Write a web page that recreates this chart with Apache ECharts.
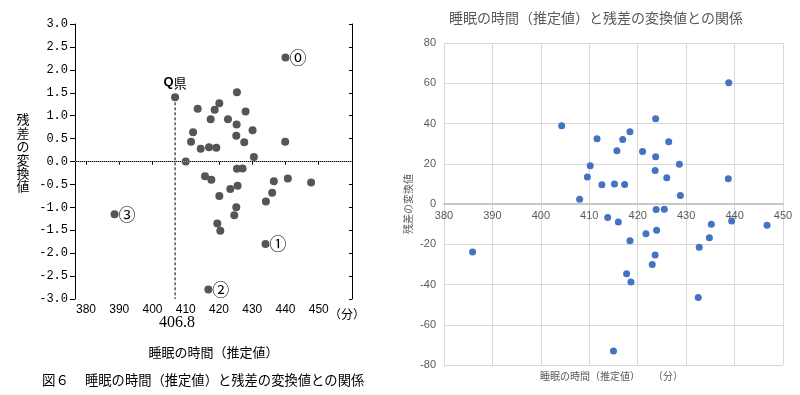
<!DOCTYPE html>
<html><head><meta charset="utf-8">
<script src="https://cdn.jsdelivr.net/npm/echarts@6/dist/echarts.min.js"></script>
<style>html,body{margin:0;padding:0;background:#fff}#c{width:800px;height:395px}</style>
</head><body><div id="c"></div>
<script>
// ---- Left chart (図6) ----
const leftSleep = [440.0,434.0,416.8,388.6,406.8, 425.4,413.6,418.7,420.1,428.0,417.5,422.7,425.3,412.2,430.1,425.2,411.6,427.6,439.9,414.5,417.0,419.2,410.0,430.5,415.8,417.7,425.4,427.1,436.5,440.7,447.7,420.1,423.4,425.6,436.0,434.1,425.2,424.6,419.5,420.4];
const leftResid = [2.27,-1.80,-2.79,-1.15,1.40, 1.51,1.15,1.13,1.27,1.09,0.92,0.92,0.81,0.64,0.68,0.56,0.43,0.42,0.43,0.28,0.31,0.30,0.00,0.10,-0.32,-0.40,-0.16,-0.15,-0.43,-0.37,-0.46,-0.75,-0.60,-0.53,-0.68,-0.87,-1.00,-1.17,-1.35,-1.51];
const leftTags = ['⓪','①','②','③','Q県'];
const qSleep = 406.8;
const qResid = 1.40;
const leftXLabels = [380,390,400,410,420,430,440,450];
// ---- Right chart ----
const rightSleep = [438.8,404.3,423.7,411.6,416.9,418.4,426.4,415.7,421.0,423.7,410.2,428.6,409.6,423.6,426.0,438.7,412.6,415.2,417.3,428.8,408.0,413.8,416.0,423.8,425.5,421.7,423.9,418.4,435.2,439.4,446.7,434.8,432.7,385.9,423.6,423.0,417.7,418.6,432.5,415.0];
const rightResid = [60.3,38.9,42.4,32.4,32.1,35.9,30.9,26.5,26.1,23.5,19.0,19.7,13.4,16.7,13.0,12.5,9.6,9.9,9.7,4.2,2.3,-6.7,-9.0,-2.7,-2.6,-14.8,-13.0,-18.3,-10.0,-8.4,-10.5,-16.8,-21.5,-23.8,-25.4,-30.1,-34.7,-38.7,-46.5,-73.0];
const rightYMin = -80, rightYMax = 80;

const JP = '"Noto Sans CJK JP", sans-serif';
const chart = echarts.init(document.getElementById('c'), null, {renderer:'canvas'});

const leftData = leftSleep.map((x,i)=>{
  const item = {value:[x, leftResid[i]]};
  const t = leftTags[i];
  if (t === 'Q県') {
    item.label = {show:true, position:'top', distance:4, formatter:'{q|Q}県', color:'#000', fontSize:13, fontFamily:JP,
      rich:{q:{fontWeight:'bold', fontSize:13, fontFamily:'"Liberation Sans", sans-serif', color:'#000'}}};
  } else if (t) {
    item.label = {show:true, position:'right', distance:0, formatter:t, color:'#000', fontSize:17, fontFamily:JP};
  }
  return item;
});

const rGridH = 322;
const zeroOffset = -rGridH * (0 - rightYMin) / (rightYMax - rightYMin);

chart.setOption({
  animation:false,
  backgroundColor:'#fff',
  grid:[
    {left:75, top:24, width:277, height:275},
    {left:444, top:43, width:339, height:rGridH}
  ],
  xAxis:[
    {gridIndex:0, type:'value', min:376.7, max:460, minInterval:10, maxInterval:10, splitNumber:8,
     axisLine:{show:true, lineStyle:{color:'#000', width:1}},
     axisTick:{show:true, inside:false, length:3, lineStyle:{color:'#000'}},
     axisLabel:{margin:5, color:'#000', fontSize:12, fontFamily:'"Liberation Sans Narrow","Liberation Sans",sans-serif',
       formatter:v=> leftXLabels.indexOf(Math.round(v*10)/10) >= 0 ? String(v) : ''},
     splitLine:{show:false},
     name:'睡眠の時間（推定値）', nameLocation:'middle', nameGap:47,
     nameTextStyle:{fontSize:13, color:'#000', fontFamily:JP}},
    {gridIndex:0, type:'value', position:'top', min:376.7, max:460, minInterval:10, maxInterval:10, splitNumber:8,
     axisLine:{show:true, lineStyle:{color:'#000', width:1}},
     axisTick:{show:true, inside:true, length:3, lineStyle:{color:'#000'}},
     axisLabel:{show:false}, splitLine:{show:false}},
    {gridIndex:1, type:'value', min:380, max:450, interval:10, offset:zeroOffset,
     axisLine:{show:true, onZero:false, lineStyle:{color:'#c8c8c8', width:2}},
     axisTick:{show:false},
     axisLabel:{margin:6, color:'#595959', fontSize:11, fontFamily:'"Liberation Sans", sans-serif'},
     splitLine:{show:true, lineStyle:{color:'#d9d9d9', width:1}}}
  ],
  yAxis:[
    {gridIndex:0, type:'value', min:-3, max:3, interval:0.5,
     axisLine:{show:true, lineStyle:{color:'#000', width:1}},
     axisTick:{show:true, inside:false, length:5, lineStyle:{color:'#000'}},
     axisLabel:{margin:7, color:'#000', fontSize:12, fontFamily:'"Liberation Mono", monospace', formatter:v=>v.toFixed(1)},
     splitLine:{show:false}},
    {gridIndex:0, type:'value', position:'right', min:-3, max:3, interval:0.5,
     axisLine:{show:true, lineStyle:{color:'#000', width:1}},
     axisTick:{show:true, inside:true, length:3, lineStyle:{color:'#000'}},
     axisLabel:{show:false}, splitLine:{show:false}},
    {gridIndex:1, type:'value', min:rightYMin, max:rightYMax, interval:20,
     axisLine:{show:false}, axisTick:{show:false},
     axisLabel:{margin:8, color:'#595959', fontSize:11, fontFamily:'"Liberation Sans", sans-serif'},
     splitLine:{show:true, lineStyle:{color:'#d9d9d9', width:1}},
     name:'残差の変換値', nameLocation:'middle', nameGap:31,
     nameTextStyle:{fontSize:10, color:'#595959', fontFamily:JP}}
  ],
  series:[
    {type:'line', xAxisIndex:0, yAxisIndex:0, data:[[qSleep,qResid],[qSleep,-3]], showSymbol:false, symbol:'none',
     lineStyle:{color:'#000', width:1, type:[3,2]}, silent:true, z:1},
    {type:'scatter', xAxisIndex:0, yAxisIndex:0, data:leftData, symbolSize:8,
     itemStyle:{color:'#555555', opacity:1}, z:3,
     markLine:{silent:true, symbol:'none', label:{show:false},
       lineStyle:{color:'#999', type:[1,1], width:1}, data:[{yAxis:0}]}},
    {type:'scatter', xAxisIndex:2, yAxisIndex:2, data:rightSleep.map((x,i)=>[x,rightResid[i]]), symbolSize:7,
     itemStyle:{color:'#4472C4', opacity:1}, z:3}
  ]
});

const qPx = chart.convertToPixel({xAxisIndex:0}, qSleep);
chart.setOption({
  graphic:[
    {type:'text', left:qPx-16, top:315, style:{text:String(qSleep), fill:'#000', font:'16px "Liberation Serif", serif'}},
    {type:'text', x:347, y:314, style:{text:'（分）', fill:'#000', font:'12px '+JP, align:'center', verticalAlign:'middle'}},
    {type:'text', x:23, y:153, style:{text:'残\n差\nの\n変\n換\n値', fill:'#000', font:'13px '+JP, lineHeight:13.4, align:'center', verticalAlign:'middle'}},
    {type:'text', x:42, y:380, style:{text:'図６', fill:'#000', font:'13.5px '+JP, verticalAlign:'middle'}},
    {type:'text', x:85, y:380, style:{text:'睡眠の時間（推定値）と残差の変換値との関係', fill:'#000', font:'13.3px '+JP, verticalAlign:'middle'}},
    {type:'text', x:596, y:18, style:{text:'睡眠の時間（推定値）と残差の変換値との関係', fill:'#595959', font:'14px '+JP, align:'center', verticalAlign:'middle'}},
    {type:'text', x:590, y:376, style:{text:'睡眠の時間（推定値）', fill:'#595959', font:'10px '+JP, align:'center', verticalAlign:'middle'}},
    {type:'text', x:668, y:376, style:{text:'（分）', fill:'#595959', font:'10px '+JP, align:'center', verticalAlign:'middle'}}
  ]
});
</script></body></html>
